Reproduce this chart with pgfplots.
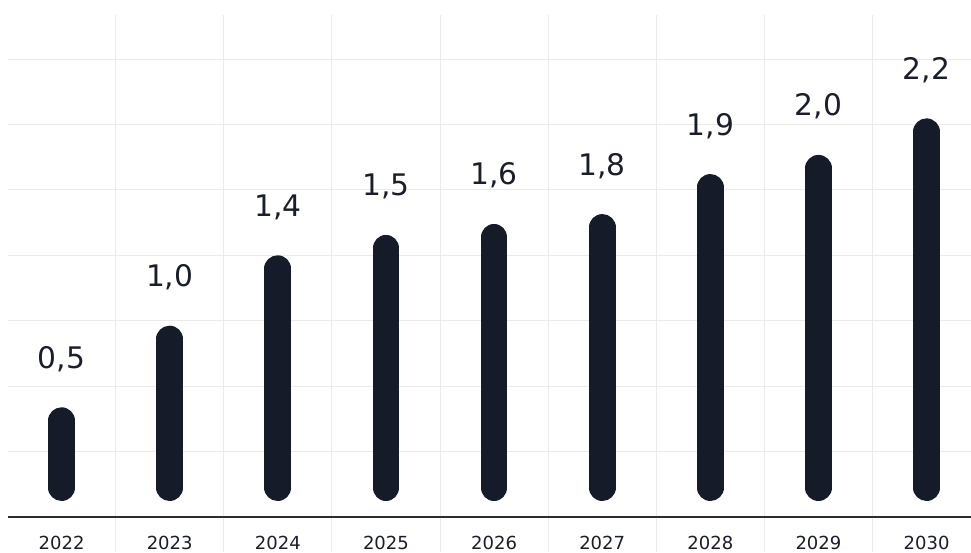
\documentclass[border=0pt]{standalone}
\usepackage{pgfplots}
\pgfplotsset{compat=1.18}
\usepackage{pgfplotstable}
\usepackage{fontspec}
\setmainfont{DejaVu Sans}
\definecolor{barc}{RGB}{21,27,40}
\definecolor{txt}{RGB}{26,30,42}
\definecolor{gridc}{RGB}{234,234,234}
\definecolor{axc}{RGB}{40,44,56}

\pgfplotstableread{
x v label
0 0.5385 {0,5}
1 1.0075 {1,0}
2 1.4120 {1,4}
3 1.5290 {1,5}
4 1.5920 {1,6}
5 1.6490 {1,8}
6 1.8790 {1,9}
7 1.9890 {2,0}
8 2.1990 {2,2}
}\data

\pgfplotsset{mybar/.style={barc, line width=26.7pt, line cap=round, shorten <=13.35pt, shorten >=13.35pt, mark=none}}

\begin{document}
\begin{tikzpicture}
\path[use as bounding box] (-7.5pt,-35pt) rectangle (963.5pt,517pt);
\begin{axis}[
  at={(0,0)}, anchor=south west,
  scale only axis, width=963.5pt, height=502pt,
  xmin=-0.5, xmax=8.411, ymin=-0.0920, ymax=2.7931,
  clip=false,
  axis line style={draw=none},
  tick style={draw=none},
  xtick={0,...,8},
  xticklabels={2022,2023,2024,2025,2026,2027,2028,2029,2030},
  ytick={0.2839,0.6598,1.0356,1.4115,1.7874,2.1632,2.5391},
  yticklabels={},
  ymajorgrids,
  major grid style={gridc, line width=1pt},
  xticklabel style={font=\fontsize{18}{20}\selectfont, text=txt, anchor=base, yshift=-32pt},
  every node near coord/.append style={font=\fontsize{29.7}{32}\selectfont, text=txt, anchor=base, yshift=39pt},
]
\pgfplotsinvokeforeach{0.5,1.5,...,7.5}{
  \draw[gridc, line width=1pt] (axis cs:#1,2.7931) -- (axis cs:#1,-0.2931);
}
\draw[axc, line width=2pt] (axis cs:-0.5,-0.0920) -- (axis cs:8.411,-0.0920);
\addplot[mybar] coordinates {(0,0) (0,0.5385)};
\addplot[mybar] coordinates {(1,0) (1,1.0075)};
\addplot[mybar] coordinates {(2,0) (2,1.4120)};
\addplot[mybar] coordinates {(3,0) (3,1.5290)};
\addplot[mybar] coordinates {(4,0) (4,1.5920)};
\addplot[mybar] coordinates {(5,0) (5,1.6490)};
\addplot[mybar] coordinates {(6,0) (6,1.8790)};
\addplot[mybar] coordinates {(7,0) (7,1.9890)};
\addplot[mybar] coordinates {(8,0) (8,2.1990)};
\addplot[draw=none, mark=none, nodes near coords, point meta=explicit symbolic]
  table[x=x, y=v, meta=label] {\data};
\end{axis}
\end{tikzpicture}
\end{document}
